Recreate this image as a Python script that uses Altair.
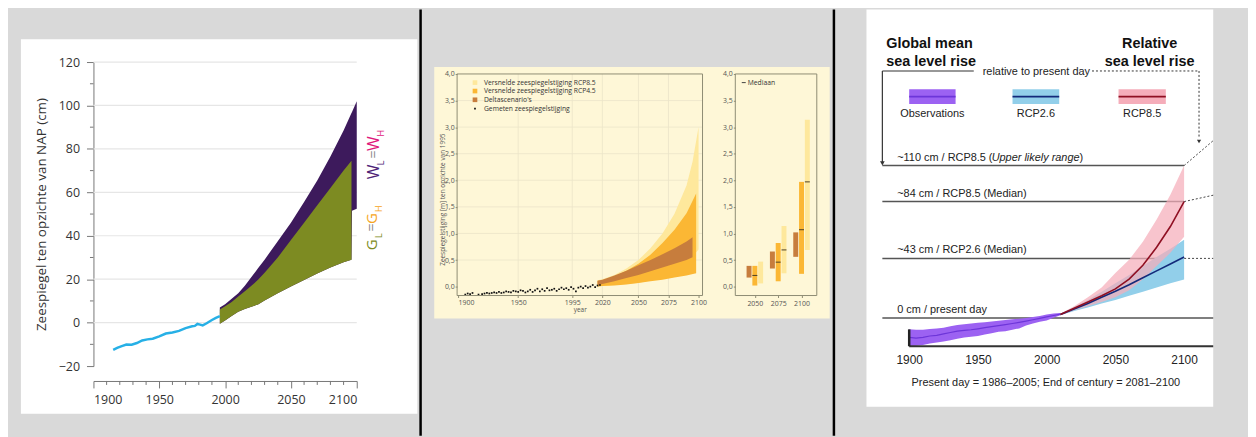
import altair as alt
import pandas as pd

# ======================= DATA =======================
# --- Panel 1: zeespiegel t.o.v. NAP (cm)
p1_obs_year = [1915, 1918, 1921, 1925, 1929, 1933, 1937, 1941, 1945, 1950, 1955, 1960,
               1965, 1970, 1975, 1977, 1979, 1981, 1983, 1986, 1990, 1993, 1996]
p1_obs_cm = [-12.5, -11.6, -10.9, -10.1, -10.2, -9.4, -8.2, -7.7, -7.4, -6.3, -5.0, -4.5,
             -3.8, -2.5, -1.7, -1.5, -0.6, -0.9, -1.3, -0.3, 1.2, 2.2, 3.0]
p1_g_year = [1996, 2000, 2005, 2010, 2015, 2020, 2025, 2030, 2040, 2050, 2060, 2070, 2080, 2090, 2096]
p1_g_lo = [-0.5, 1.0, 3.0, 5.0, 6.3, 7.3, 8.4, 10.2, 13.5, 16.6, 19.6, 22.6, 25.4, 27.8, 29.0]
p1_g_hi = [6.0, 7.5, 9.5, 12.0, 14.5, 17.0, 19.7, 23.0, 30.0, 38.0, 46.0, 54.0, 62.0, 70.0, 74.5]
p1_w_year = [1996, 2000, 2005, 2010, 2015, 2020, 2025, 2030, 2040, 2050, 2060, 2070, 2080, 2090,
             2096, 2096.4, 2100]
p1_w_lo = [-0.5, 1.0, 3.0, 5.0, 6.3, 7.3, 8.4, 10.2, 13.5, 16.6, 19.6, 22.6, 25.4, 27.8,
           29.0, 51.5, 52.5]
p1_w_hi = [7.0, 8.5, 11.0, 13.5, 17.0, 21.0, 25.0, 29.0, 37.5, 46.0, 55.5, 65.5, 76.5, 88.5,
           96.5, 97.0, 102.0]
p1_yticks = [-20, 0, 20, 40, 60, 80, 100, 120]
p1_yminor = [-10, 10, 30, 50, 70, 90, 110]
p1_grid = [0, 20, 40, 60, 80, 100, 120]
p1_xticks = [1900, 1950, 2000, 2050, 2100]
p1_xminor = [1910, 1920, 1930, 1940, 1960, 1970, 1980, 1990, 2010, 2020, 2030, 2040,
             2060, 2070, 2080, 2090]

# --- Panel 2: zeespiegelstijging (m) t.o.v. 1995
p2_obs_year = [1906, 1908, 1910, 1912, 1917, 1920, 1922, 1924, 1926, 1928, 1930, 1932, 1934,
               1936, 1938, 1940, 1942, 1944, 1946, 1948, 1950, 1952, 1954, 1956, 1958, 1960,
               1962, 1964, 1966, 1968, 1970, 1972, 1974, 1976, 1978, 1980, 1982, 1984, 1986,
               1988, 1990, 1992, 1994, 1996, 1998, 2000, 2002, 2004, 2006, 2008, 2010, 2012,
               2014, 2016, 2018]
p2_obs_m = [-0.15, -0.13, -0.14, -0.12, -0.15, -0.14, -0.13, -0.12, -0.13, -0.12, -0.11, -0.12,
            -0.10, -0.12, -0.11, -0.09, -0.10, -0.11, -0.08, -0.09, -0.10, -0.07, -0.08, -0.11,
            -0.09, -0.06, -0.10, -0.07, -0.04, -0.09, -0.05, -0.08, -0.03, -0.07, -0.06, -0.04,
            -0.08, -0.05, -0.02, -0.05, -0.03, -0.06, -0.01, -0.04, -0.09, -0.02, 0.00, -0.03,
            0.01, -0.02, 0.00, 0.03, -0.01, 0.02, 0.03]
p2_r85_year = [2016, 2020, 2030, 2040, 2050, 2060, 2070, 2080, 2090, 2095, 2100]
p2_r85_lo = [0.00, 0.01, 0.03, 0.05, 0.07, 0.12, 0.18, 0.28, 0.45, 0.56, 0.70]
p2_r85_hi = [0.12, 0.14, 0.22, 0.34, 0.50, 0.72, 1.00, 1.37, 1.90, 2.35, 3.00]
p2_r45_year = [2016, 2020, 2030, 2040, 2050, 2060, 2070, 2080, 2090, 2098]
p2_r45_lo = [0.00, 0.01, 0.02, 0.04, 0.07, 0.10, 0.13, 0.17, 0.21, 0.25]
p2_r45_hi = [0.11, 0.12, 0.19, 0.30, 0.43, 0.60, 0.82, 1.07, 1.38, 1.75]
p2_dl_year = [2016, 2020, 2030, 2040, 2050, 2060, 2070, 2080, 2090, 2095]
p2_dl_lo = [0.03, 0.05, 0.10, 0.16, 0.22, 0.29, 0.36, 0.43, 0.50, 0.55]
p2_dl_hi = [0.11, 0.13, 0.21, 0.30, 0.40, 0.50, 0.61, 0.72, 0.85, 0.93]
p2_xticks = [1900, 1950, 1995, 2020, 2050, 2075, 2100]
p2_xgrid = [1950, 1995, 2020, 2050, 2075]
p2_yticks = [0.0, 0.5, 1.0, 1.5, 2.0, 2.5, 3.0, 3.5, 4.0]
p2_ygrid = [0.5, 1.0, 1.5, 2.0, 2.5, 3.0, 3.5]
p2_legend = ["Versnelde zeespiegelstijging RCP8.5", "Versnelde zeespiegelstijging RCP4.5",
             "Deltascenario's", "Gemeten zeespiegelstijging"]
p2_box_horizon = [2050, 2050, 2050, 2075, 2075, 2075, 2100, 2100, 2100]
p2_box_scen = ["delta", "rcp45", "rcp85"] * 3
p2_box_lo = [0.17, 0.02, 0.06, 0.34, 0.10, 0.25, 0.56, 0.24, 0.69]
p2_box_hi = [0.39, 0.39, 0.47, 0.66, 0.82, 1.14, 1.02, 1.97, 3.14]
p2_med_horizon = [2050, 2075, 2075, 2100, 2100]
p2_med_scen = ["rcp45", "rcp45", "rcp85", "rcp45", "rcp85"]
p2_med_val = [0.21, 0.46, 0.69, 1.07, 1.97]
p2_box_ticks = [2050, 2075, 2100]

# --- Panel 3: global mean / relative sea level rise (cm)
p3_obs_year = [1900, 1905, 1910, 1915, 1920, 1925, 1930, 1935, 1940, 1945, 1950, 1955, 1960,
               1965, 1970, 1975, 1980, 1985, 1990, 1995, 2000, 2005, 2010]
p3_obs_mid = [-14.0, -14.5, -14.0, -13.0, -12.5, -11.5, -10.5, -9.5, -9.0, -8.5, -7.8, -7.0,
              -6.2, -5.5, -4.8, -4.0, -3.2, -2.3, -1.3, -0.3, 0.8, 1.8, 2.8]
p3_obs_lo = [-20.3, -20.0, -19.5, -18.5, -17.7, -17.0, -16.0, -15.0, -14.0, -13.5, -13.0, -12.0,
             -11.0, -10.0, -9.5, -8.5, -7.5, -5.5, -4.0, -2.8, -1.8, 0.2, 2.0]
p3_obs_hi = [-8.2, -8.5, -8.5, -8.0, -7.5, -7.0, -6.0, -5.0, -4.5, -4.0, -3.5, -3.0, -2.5,
             -2.0, -1.5, -1.0, -0.5, 0.0, 0.8, 1.5, 2.5, 3.2, 3.6]
p3_fut_year = [2010, 2020, 2030, 2040, 2050, 2060, 2070, 2080, 2090, 2100]
p3_r26_mid = [2.5, 6.5, 10.5, 15.0, 19.3, 24.0, 29.0, 34.0, 39.0, 44.0]
p3_r26_lo = [2.0, 5.0, 7.5, 10.5, 13.0, 16.0, 19.0, 22.0, 25.0, 27.7]
p3_r26_hi = [3.0, 8.0, 13.0, 19.0, 25.0, 31.0, 37.5, 44.0, 50.0, 56.4]
p3_r85_mid = [2.5, 7.0, 11.5, 16.0, 21.0, 28.0, 38.0, 51.0, 66.0, 84.0]
p3_r85_lo = [2.0, 5.5, 8.5, 11.5, 15.0, 20.0, 28.0, 37.5, 47.0, 58.7]
p3_r85_hi = [3.0, 8.5, 15.0, 22.0, 32.5, 42.0, 55.0, 71.0, 89.0, 110.0]
p3_ref_cm = [110, 84, 43]
p3_ref_text = ["~110 cm / RCP8.5 (", "~84  cm / RCP8.5 (Median)", "~43 cm / RCP2.6 (Median)",
               "0 cm / present day"]
p3_xticks = [1900, 1950, 2000, 2050, 2100]
p3_lead_y0 = [110, 84, 43]
p3_lead_y1 = [128, 88.6, 43]

# ======================= STYLE =======================
GREY = "#d9d9d9"
F1 = "Open Sans"
F2 = "Open Sans"
NAR = "Liberation Sans"
one = pd.DataFrame({"k": [0]})


def txt(s, px, py, **kw):
    return alt.Chart(one).mark_text(text=s, **kw).encode(x=alt.value(px), y=alt.value(py))


def prule(x0, x1, y0, y1, **kw):
    return alt.Chart(one).mark_rule(**kw).encode(
        x=alt.value(x0), x2=alt.value(x1), y=alt.value(y0), y2=alt.value(y1))


def spacer(w, h):
    return alt.Chart(one).mark_point(opacity=0, size=0).encode(
        x=alt.value(0), y=alt.value(0)).properties(width=w, height=h)


# ======================= DECOR (cards & dividers) =======================
decor_df = pd.DataFrame({
    "x0": [0, 13, 414, 429, 830, 864],
    "x1": [1248, 412, 416.5, 827, 832.5, 1213],
    "y0": [0, 30, 0, 58, 0, 0],
    "y1": [429, 407, 429, 311, 429, 400],
    "fill": [GREY, "#ffffff", "#000000", "#fef7d7", "#000000", "#ffffff"],
})
decor = alt.Chart(decor_df).mark_rect().encode(
    x=alt.X("x0:Q", scale=None, axis=None), x2="x1:Q",
    y=alt.Y("y0:Q", scale=None, axis=None), y2="y1:Q",
    color=alt.Color("fill:N", scale=None, legend=None),
).properties(width=86, height=1)

# ======================= PANEL 1 =======================
W1, H1 = 265, 306
P1C = "#777777"


def p1x(f="x"):
    return alt.X(f"{f}:Q", scale=alt.Scale(domain=[1900, 2100], nice=False, zero=False),
                 axis=alt.Axis(values=p1_xticks, format="d", offset=15, tickSize=7,
                               tickColor=P1C, domainColor=P1C, labelFont=F1, labelFontSize=12.5,
                               labelColor="#333", labelPadding=6, grid=False), title=None)


def p1y(f="y"):
    return alt.Y(f"{f}:Q", scale=alt.Scale(domain=[-20, 120], nice=False, zero=False),
                 axis=alt.Axis(values=p1_yticks, tickSize=7, tickColor=P1C, domainColor=P1C,
                               labelFont=F1, labelFontSize=12.5, labelColor="#333",
                               labelPadding=7, grid=False,
                               title="Zeespiegel ten opzichte van NAP (cm)", titleFont=F1,
                               titleFontSize=13.5, titleFontWeight="normal", titleColor="#333",
                               titleX=-52, titleY=153, titleBaseline="middle", titleAngle=270),
                 title="Zeespiegel ten opzichte van NAP (cm)")


p1_grid_df = pd.DataFrame({"y": p1_grid, "x": 1900, "x2": 2100})
p1_gridl = alt.Chart(p1_grid_df).mark_rule(color="#e6e6e6", strokeWidth=1.2).encode(
    x=p1x(), x2="x2:Q", y=p1y())
p1_ymin = alt.Chart(pd.DataFrame({"y": p1_yminor})).mark_rule(color=P1C).encode(
    y=p1y(), x=alt.value(-3.5), x2=alt.value(0))
p1_xmin = alt.Chart(pd.DataFrame({"x": p1_xminor})).mark_rule(color=P1C).encode(
    x=p1x(), y=alt.value(H1 + 15), y2=alt.value(H1 + 19))
p1_w = alt.Chart(pd.DataFrame({"x": p1_w_year, "y": p1_w_lo, "y2": p1_w_hi})).mark_area(
    color="#3d1a5c", interpolate="linear").encode(x=p1x(), y=p1y(), y2="y2:Q")
p1_g = alt.Chart(pd.DataFrame({"x": p1_g_year, "y": p1_g_lo, "y2": p1_g_hi})).mark_area(
    color="#7d8b22").encode(x=p1x(), y=p1y(), y2="y2:Q")
p1_obs = alt.Chart(pd.DataFrame({"x": p1_obs_year, "y": p1_obs_cm})).mark_line(
    color="#27b0e6", strokeWidth=2.5).encode(x=p1x(), y=p1y())

rot = dict(angle=270, align="left", baseline="middle", font=F1)
p1_ann = [
    txt("W", 282, 118, fontSize=16, color="#4e2378", **rot),
    txt("L", 289.5, 104, fontSize=9, color="#4e2378", **rot),
    txt("=", 282, 97, fontSize=14, color="#8a8a8a", **rot),
    txt("W", 282, 89.5, fontSize=16, color="#e0187c", **rot),
    txt("H", 289.5, 75, fontSize=9, color="#e0187c", **rot),
    txt("G", 280, 189.5, fontSize=15, color="#7d8b22", **rot),
    txt("L", 287, 177, fontSize=9, color="#7d8b22", **rot),
    txt("=", 280, 170.5, fontSize=14, color="#8a8a8a", **rot),
    txt("G", 280, 163, fontSize=15, color="#f6a623", **rot),
    txt("H", 287, 151, fontSize=9, color="#f6a623", **rot),
]
P1 = alt.layer(p1_gridl, p1_ymin, p1_xmin, p1_w, p1_g, p1_obs, *p1_ann).properties(
    width=W1, height=H1)

# ======================= PANEL 2 (left) =======================
W2L, H2, W2R = 247, 223, 82
FR = "#8e8c74"
LIGHT, ORANGE, BROWN = "#fee89c", "#fbb734", "#c77d3d"
ylab = "replace(format(datum.value, '.1f'), '.', ',')"


def p2x(f="x"):
    return alt.X(f"{f}:Q", scale=alt.Scale(domain=[1899.2, 2103.3], nice=False, zero=False),
                 axis=alt.Axis(values=p2_xticks, format="d", domain=False, tickSize=2,
                               tickColor=FR, labelFont=F2, labelFontSize=7, labelColor="#555",
                               labelPadding=1, grid=False, title="year", titleFont=F2,
                               titleFontSize=6.5, titleFontWeight="normal", titleColor="#555",
                               titlePadding=1), title="year")


def p2y(f="y", title=True):
    t = "Zeespiegelstijging [m] ten opzichte van 1995" if title else None
    ax = dict(values=p2_yticks, labelExpr=ylab, domain=False, tickSize=2, tickColor=FR,
              labelFont=F2, labelFontSize=7, labelColor="#555", labelPadding=1, grid=False)
    if title:
        ax.update(title=t, titleFont=F2, titleFontSize=6.5, titleFontWeight="normal",
                  titleColor="#555", titleX=-15, titleY=126, titleBaseline="middle",
                  titleAngle=270)
    else:
        ax.update(title=None)
    return alt.Y(f"{f}:Q", scale=alt.Scale(domain=[-0.168, 4.0], nice=False, zero=False),
                 axis=alt.Axis(**ax), title=t)


GRIDC = "#ebe5c9"
p2_vg = alt.Chart(pd.DataFrame({"x": p2_xgrid})).mark_rule(color=GRIDC, strokeWidth=0.8).encode(
    x=p2x(), y=alt.value(0), y2=alt.value(H2))
p2_hg = alt.Chart(pd.DataFrame({"y": p2_ygrid})).mark_rule(color=GRIDC, strokeWidth=0.8).encode(
    y=p2y(), x=alt.value(0), x2=alt.value(W2L))
p2_b85 = alt.Chart(pd.DataFrame({"x": p2_r85_year, "y": p2_r85_lo, "y2": p2_r85_hi})).mark_area(
    color=LIGHT).encode(x=p2x(), y=p2y(), y2="y2:Q")
p2_b45 = alt.Chart(pd.DataFrame({"x": p2_r45_year, "y": p2_r45_lo, "y2": p2_r45_hi})).mark_area(
    color=ORANGE).encode(x=p2x(), y=p2y(), y2="y2:Q")
p2_bdl = alt.Chart(pd.DataFrame({"x": p2_dl_year, "y": p2_dl_lo, "y2": p2_dl_hi})).mark_area(
    color=BROWN).encode(x=p2x(), y=p2y(), y2="y2:Q")
p2_dots = alt.Chart(pd.DataFrame({"x": p2_obs_year, "y": p2_obs_m})).mark_square(
    size=3, color="#111", opacity=1).encode(x=p2x(), y=p2y())
p2_frame = alt.Chart(one).mark_rect(fill=None, stroke=FR, strokeWidth=1).encode(
    x=alt.value(0), x2=alt.value(W2L), y=alt.value(0), y2=alt.value(H2))
leg_rows = [8.7, 17.2, 26.0, 35.0]
leg_cols = [LIGHT, ORANGE, BROWN]
p2_leg = []
for i, c in enumerate(leg_cols):
    p2_leg.append(alt.Chart(one).mark_square(size=22, color=c, opacity=1).encode(
        x=alt.value(18), y=alt.value(leg_rows[i])))
p2_leg.append(alt.Chart(one).mark_square(size=3, color="#111", opacity=1).encode(
    x=alt.value(18), y=alt.value(leg_rows[3])))
for i, s in enumerate(p2_legend):
    p2_leg.append(txt(s, 27, leg_rows[i], align="left", baseline="middle", font=F2,
                      fontSize=6.8, color="#333"))
P2L = alt.layer(p2_vg, p2_hg, p2_b85, p2_b45, p2_bdl, p2_dots, p2_frame, *p2_leg).properties(
    width=W2L, height=H2)

# ======================= PANEL 2 (right, box columns) =======================
off = "datum.scen == 'delta' ? -6.2 : (datum.scen == 'rcp85' ? 6.2 : 0)"
p2rx = alt.X("xpos:Q", scale=alt.Scale(domain=[2034.4, 2111.0], nice=False, zero=False),
             axis=alt.Axis(values=p2_box_ticks, format="d", domain=False, tickSize=2, tickColor=FR,
                           labelFont=F2, labelFontSize=7, labelColor="#555", labelPadding=2,
                           grid=False, title=None), title=None)
box_df = pd.DataFrame({"horizon": p2_box_horizon, "scen": p2_box_scen,
                       "lo": p2_box_lo, "hi": p2_box_hi})
med_df = pd.DataFrame({"horizon": p2_med_horizon, "scen": p2_med_scen, "val": p2_med_val})
p2_bars = alt.Chart(box_df).transform_calculate(xpos="datum.horizon + (" + off + ")").mark_bar(
    size=5, orient="vertical").encode(
    x=p2rx, y=p2y("lo", title=False), y2="hi:Q",
    color=alt.Color("scen:N", scale=alt.Scale(domain=["delta", "rcp45", "rcp85"],
                                              range=[BROWN, ORANGE, LIGHT]), legend=None))
p2_meds = alt.Chart(med_df).transform_calculate(xpos="datum.horizon + (" + off + ")").mark_tick(
    orient="horizontal", size=5, thickness=1, color="#4d3f24", opacity=1).encode(
    x=p2rx, y=p2y("val", title=False))
p2r_frame = alt.Chart(one).mark_rect(fill=None, stroke=FR, strokeWidth=1).encode(
    x=alt.value(0), x2=alt.value(W2R), y=alt.value(0), y2=alt.value(H2))
P2R = alt.layer(
    p2_bars, p2_meds, p2r_frame,
    prule(6.5, 10.5, 8.7, 8.7, color="#444", strokeWidth=1),
    txt("Mediaan", 12.5, 8.7, align="left", baseline="middle", font=F2, fontSize=6.8,
        color="#333"),
).properties(width=W2R, height=H2)

# ======================= PANEL 3 =======================
W3, H3 = 333, 208
XD3 = [1880.48, 2121.18]
FS3 = 11


def p3x(f="x"):
    return alt.X(f"{f}:Q", scale=alt.Scale(domain=XD3, nice=False, zero=False),
                 axis=alt.Axis(values=p3_xticks, format="d", domain=False, ticks=False,
                               labelFont=NAR, labelFontSize=12, labelColor="#222",
                               labelPadding=7, grid=False, title=None), title=None)


def p3y(f="y"):
    return alt.Y(f"{f}:Q", scale=alt.Scale(domain=[-21.08, 128.06], nice=False, zero=False),
                 axis=None)


LINEC = "#555555"
ref_df = pd.DataFrame({"y": p3_ref_cm, "x": XD3[0], "x2": 2100})
p3_refs = alt.Chart(ref_df).mark_rule(color=LINEC, strokeWidth=1.5).encode(
    x=p3x(), x2="x2:Q", y=p3y())
p3_zero = alt.Chart(pd.DataFrame({"y": [0], "x": [XD3[0]], "x2": [XD3[1]]})).mark_rule(
    color=LINEC, strokeWidth=1.5).encode(x=p3x(), x2="x2:Q", y=p3y())
lead_df = pd.DataFrame({"x": 2100, "x2": XD3[1], "y": p3_lead_y0, "y2": p3_lead_y1})
p3_lead = alt.Chart(lead_df).mark_rule(color="#444", strokeWidth=1, strokeDash=[2, 2]).encode(
    x=p3x(), x2="x2:Q", y=p3y(), y2="y2:Q")
p3_axis = alt.Chart(pd.DataFrame({"x": [1900], "x2": [XD3[1]], "y": [-20.4]})).mark_rule(
    color="#333", strokeWidth=2).encode(x=p3x(), x2="x2:Q", y=p3y())
p3_vtick = alt.Chart(pd.DataFrame({"x": [1900], "y": [-20.4], "y2": [-8.2]})).mark_rule(
    color="#222", strokeWidth=2.5).encode(x=p3x(), y=p3y(), y2="y2:Q")
OBS_B, OBS_L = "#9c62f2", "#6d35d9"
B26, L26 = "#92cfea", "#13297a"
B85, L85 = "#f5adba", "#8f0f22"
p3_ob = alt.Chart(pd.DataFrame({"x": p3_obs_year, "y": p3_obs_lo, "y2": p3_obs_hi})).mark_area(
    color=OBS_B).encode(x=p3x(), y=p3y(), y2="y2:Q")
p3_ol = alt.Chart(pd.DataFrame({"x": p3_obs_year, "y": p3_obs_mid})).mark_line(
    color=OBS_L, strokeWidth=1.2).encode(x=p3x(), y=p3y())
p3_b26 = alt.Chart(pd.DataFrame({"x": p3_fut_year, "y": p3_r26_lo, "y2": p3_r26_hi})).mark_area(
    color=B26).encode(x=p3x(), y=p3y(), y2="y2:Q")
p3_b85 = alt.Chart(pd.DataFrame({"x": p3_fut_year, "y": p3_r85_lo, "y2": p3_r85_hi})).mark_area(
    color=B85, opacity=0.72).encode(x=p3x(), y=p3y(), y2="y2:Q")
p3_l26 = alt.Chart(pd.DataFrame({"x": p3_fut_year, "y": p3_r26_mid})).mark_line(
    color=L26, strokeWidth=1.6).encode(x=p3x(), y=p3y())
p3_l85 = alt.Chart(pd.DataFrame({"x": p3_fut_year, "y": p3_r85_mid})).mark_line(
    color=L85, strokeWidth=1.6).encode(x=p3x(), y=p3y())

lab_df = pd.DataFrame({"t": p3_ref_text, "y": p3_ref_cm + [0], "x": 1891.3})
p3_labs = alt.Chart(lab_df).mark_text(align="left", baseline="middle", font=NAR, fontSize=FS3,
                                      color="#222", dy=-8).encode(
    x=p3x(), y=p3y(), text="t:N")
p3_ital = [
    alt.Chart(one).mark_text(text="Upper likely range", align="left", baseline="middle",
                             font=NAR, fontSize=FS3, fontStyle="italic", color="#222",
                             dy=-8).encode(x=alt.value(110), y=alt.datum(110)),
    alt.Chart(one).mark_text(text=")", align="left", baseline="middle", font=NAR, fontSize=FS3,
                             color="#222", dy=-8).encode(x=alt.value(198.5), y=alt.datum(110)),
]
hdr = dict(font=NAR, fontSize=14.5, fontWeight="bold", color="#111", baseline="alphabetic")
p3_hdr = [
    txt("Global mean", 4, -93.5, align="left", **hdr),
    txt("sea level rise", 4, -75, align="left", **hdr),
    txt("Relative", 269, -93.5, align="center", **hdr),
    txt("sea level rise", 269, -75, align="center", **hdr),
    txt("relative to present day", 155, -68.5, align="center", baseline="middle", font=NAR,
        fontSize=FS3, color="#222"),
    prule(0, 92, -70, -70, color="#333", strokeWidth=1.2),
    prule(0, 0, -70, 22, color="#333", strokeWidth=1.2),
    prule(211, 318.7, -70, -70, color="#333", strokeWidth=1, strokeDash=[2, 2]),
    prule(318.7, 318.7, -70, -2, color="#333", strokeWidth=1, strokeDash=[2, 2]),
    alt.Chart(one).mark_point(shape="triangle-down", filled=True, size=22, color="#333",
                              opacity=1).encode(x=alt.value(0), y=alt.value(23)),
    alt.Chart(one).mark_point(shape="triangle-down", filled=True, size=18, color="#333",
                              opacity=1).encode(x=alt.value(318.7), y=alt.value(1)),
]
sw = [(27, 73.7, OBS_B, OBS_L, "Observations"), (131, 178, B26, L26, "RCP2.6"),
      (237.7, 285.3, B85, L85, "RCP8.5")]
p3_leg = []
for a, b, cb, cl, lab in sw:
    p3_leg.append(alt.Chart(one).mark_rect(color=cb).encode(
        x=alt.value(a), x2=alt.value(b), y=alt.value(-51.7), y2=alt.value(-36.7)))
    p3_leg.append(prule(a, b, -44.2, -44.2, color=cl, strokeWidth=1.8))
    p3_leg.append(txt(lab, (a + b) / 2, -26.7, align="center", baseline="middle", font=NAR,
                      fontSize=FS3, color="#222"))
p3_cap = txt("Present day = 1986\u20132005; End of century = 2081\u20132100", 164.5, 244.5,
             align="center", baseline="middle", font=NAR, fontSize=FS3, color="#222")

P3 = alt.layer(p3_refs, p3_zero, p3_lead, p3_ob, p3_ol, p3_b26, p3_b85, p3_l26, p3_l85,
               p3_axis, p3_vtick, p3_labs, *p3_ital, *p3_hdr, *p3_leg, p3_cap).properties(
    width=W3, height=H3)

# ======================= LAYOUT =======================
# nested vconcat columns count as zero width in a flush layout, so the gaps
# include the widths of the panel that precedes them
V1 = alt.vconcat(spacer(1, 53), P1, spacing=0, bounds="flush")
V2L = alt.vconcat(spacer(1, 65), P2L, spacing=0, bounds="flush")
V2R = alt.vconcat(spacer(1, 65), P2R, spacing=0, bounds="flush")
V3 = alt.vconcat(spacer(1, 132), P3, spacing=0, bounds="flush")

chart = alt.hconcat(
    decor, V1, spacer(W1 + 101, 1), V2L, spacer(W2L + 33, 1), V2R, spacer(W2R + 66, 1), V3,
    spacing=0, bounds="flush", padding=0, background=GREY,
).configure_view(stroke=None)

chart.save("out.html", embed_options={"renderer": "svg", "actions": False})
